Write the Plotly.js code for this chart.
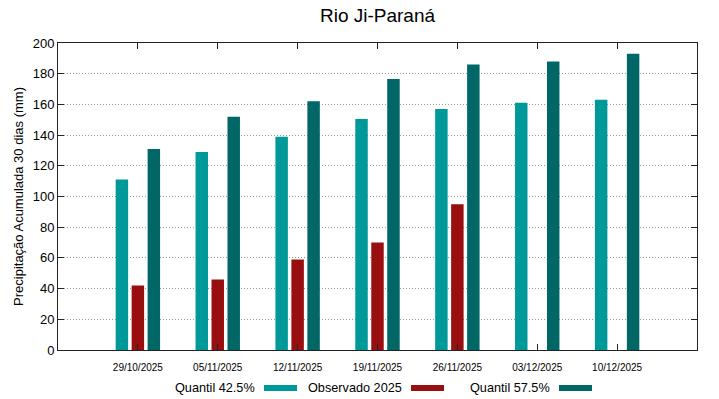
<!DOCTYPE html>
<html>
<head>
<meta charset="utf-8">
<script src="https://cdn.plot.ly/plotly-3.0.1.min.js"></script>
<style>html,body{margin:0;padding:0;background:#fff;}#chart{width:719px;height:399px;}</style>
</head>
<body>
<div id="chart"></div>
<script>
const categories = ["29/10/2025","05/11/2025","12/11/2025","19/11/2025","26/11/2025","03/12/2025","10/12/2025"];
const seriesNames = ["Quantil 42.5%","Observado 2025","Quantil 57.5%"];
const quantil425 = [111,129,139,150.5,157,161,163];
const observado2025 = [42,46,59,70,95,null,null];
const quantil575 = [131,152,162,176.5,186,188,193];
const yTickVals = [0,20,40,60,80,100,120,140,160,180,200];

const colors = ["#009999","#990f0f","#006666"];
const seriesData = [quantil425, observado2025, quantil575];

const font = "Liberation Sans, Arial, sans-serif";
const traces = seriesData.map((d,i)=>({
  type:"bar", x:categories, y:d, name:seriesNames[i],
  marker:{color:colors[i], line:{width:0}}, showlegend:false, hoverinfo:"skip"
}));

// custom gnuplot-style legend: text followed by swatch
const legendText = [257, 404, 552];
const annotations = seriesNames.map((n,i)=>({
  text:n, xref:"paper", yref:"paper", x:(legendText[i]-58)/639, y:-(388-350)/307,
  xanchor:"right", yanchor:"middle", showarrow:false, font:{family:font,size:12.7,color:"#000"}
}));
const shapes = seriesNames.map((n,i)=>({
  type:"rect", xref:"paper", yref:"paper",
  x0:(legendText[i]+7-58)/639, x1:(legendText[i]+40-58)/639,
  y0:-(391-350)/307, y1:-(385-350)/307, fillcolor:colors[i], line:{width:0}
}));

const layout = {
  width:719, height:399,
  margin:{l:58, r:22, t:43, b:49},
  paper_bgcolor:"#fff", plot_bgcolor:"#fff",
  title:{text:"Rio Ji-Paraná", font:{family:font,size:19,color:"#000"}, xref:"paper", x:0.5, xanchor:"center", y:0.962, yanchor:"middle"},
  barmode:"group", bargap:0.4, bargroupgap:0.22,
  xaxis:{type:"category", range:[-1,7], showline:true, mirror:"ticks", linecolor:"#222", linewidth:1,
    ticks:"inside", ticklen:6, tickcolor:"#222", showgrid:false,
    tickfont:{family:font,size:10,color:"#000"}, ticklabelstandoff:8},
  yaxis:{range:[0,200], tickvals:yTickVals, showline:true, mirror:"ticks", linecolor:"#222", linewidth:1,
    ticks:"inside", ticklen:6, tickcolor:"#222",
    showgrid:true, gridcolor:"#999999", griddash:"1px,2px", gridwidth:1, zeroline:false,
    tickfont:{family:font,size:13,color:"#000"},
    title:{text:"Precipitação Acumulada 30 dias (mm)", font:{family:font,size:13,color:"#000"}, standoff:6}},
  annotations:annotations, shapes:shapes
};
Plotly.newPlot("chart", traces, layout, {staticPlot:true, displayModeBar:false});
</script>
</body>
</html>
